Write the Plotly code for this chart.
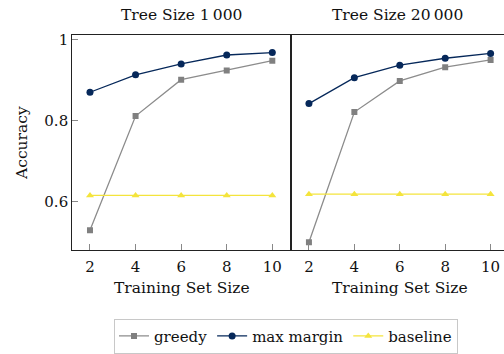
import plotly.graph_objects as go

# Training set sizes and accuracies for the two tree sizes
train_sizes = [2, 4, 6, 8, 10]

greedy_1000 = [0.529, 0.811, 0.901, 0.924, 0.948]
max_margin_1000 = [0.870, 0.913, 0.940, 0.962, 0.968]
baseline_1000 = [0.615, 0.615, 0.615, 0.615, 0.615]

greedy_20000 = [0.499, 0.821, 0.898, 0.932, 0.950]
max_margin_20000 = [0.842, 0.906, 0.937, 0.954, 0.966]
baseline_20000 = [0.618, 0.618, 0.618, 0.618, 0.618]

panel_titles = ["Tree Size 1\u2009000", "Tree Size 20\u2009000"]
x_title = "Training Set Size"
y_title = "Accuracy"
y_ticks = [0.6, 0.8, 1.0]
y_tick_text = ["0.6", "0.8", "1"]

W, H = 504, 354
FONT = "DejaVu Serif"
INK = "#111"
GREEDY = "#808080"
GREEDY_LINE = "#8c8c8c"
MAXM = "#06285a"
BASE = "#f4e43c"

series = [
    ("greedy", GREEDY_LINE, GREEDY, "square", [greedy_1000, greedy_20000], 6),
    ("max margin", MAXM, MAXM, "circle", [max_margin_1000, max_margin_20000], 7),
    ("baseline", BASE, BASE, "triangle-up", [baseline_1000, baseline_20000], 7),
]

fig = go.Figure()
for name, lcol, mcol, sym, vals, msize in series:
    for i, (xa, ya) in enumerate([("x", "y"), ("x2", "y2")]):
        fig.add_trace(go.Scatter(
            x=train_sizes, y=vals[i], mode="lines+markers", name=name,
            line=dict(color=lcol, width=1.3),
            marker=dict(symbol=sym, size=msize, color=mcol),
            xaxis=xa, yaxis=ya, showlegend=(i == 0), legendgroup=name,
        ))

# pixel layout of the two panels
left0, split, right1 = 72.3, 291.0, 504.0
top, bottom = 35.7, 254.0
xdom1 = [left0 / W, split / W]
xdom2 = [split / W, right1 / W]
ydom = [1 - bottom / H, 1 - top / H]

tick_font = dict(family=FONT, size=15, color=INK)
label_font = dict(family=FONT, size=15.5, color=INK)

axis_common = dict(
    showline=True, linecolor="#222", linewidth=1.2,
    ticks="inside", ticklen=6, tickcolor="#888", tickwidth=1,
    showgrid=False, zeroline=False,
    tickfont=tick_font,
)

fig.update_layout(
    template="none",
    width=W, height=H,
    margin=dict(l=0, r=0, t=0, b=0),
    paper_bgcolor="white", plot_bgcolor="white",
    font=dict(family=FONT, size=15, color=INK),
    xaxis=dict(domain=xdom1, range=[1.224, 10.82], tickvals=train_sizes,
               mirror=True, anchor="y", ticklabelstandoff=2, **axis_common),
    xaxis2=dict(domain=xdom2, range=[1.21, 10.59], tickvals=train_sizes,
                mirror=True, anchor="y2", ticklabelstandoff=2, **axis_common),
    yaxis=dict(domain=ydom, range=[0.479, 1.011], tickvals=y_ticks,
               ticktext=y_tick_text, mirror=True, anchor="x", **axis_common),
    yaxis2=dict(domain=ydom, range=[0.479, 1.011], tickvals=y_ticks,
                showticklabels=False, anchor="x2",
                **{k: v for k, v in axis_common.items() if k != "ticks"},
                ticks=""),
    legend=dict(orientation="h", x=286 / W, y=1 - 341 / H,
                xanchor="center", yanchor="middle",
                bordercolor="#c8c8c8", borderwidth=1,
                font=dict(family=FONT, size=15, color=INK),
                itemwidth=30, tracegroupgap=0),
)

annotations = []
for i, dom in enumerate([xdom1, xdom2]):
    cx = (dom[0] + dom[1]) / 2
    annotations.append(dict(text=panel_titles[i], x=cx, y=1 - 15 / H,
                            xref="paper", yref="paper", showarrow=False,
                            xanchor="center", yanchor="middle",
                            font=label_font))
    annotations.append(dict(text=x_title, x=cx if i == 0 else (309 + 490.7) / 2 / W,
                            y=1 - 292 / H,
                            xref="paper", yref="paper", showarrow=False,
                            xanchor="center", yanchor="middle",
                            font=label_font))
annotations.append(dict(text=y_title, x=22 / W, y=1 - 145 / H, textangle=-90,
                        xref="paper", yref="paper", showarrow=False,
                        xanchor="center", yanchor="middle",
                        font=label_font))
fig.update_layout(annotations=annotations)

fig.write_html("out.html")
